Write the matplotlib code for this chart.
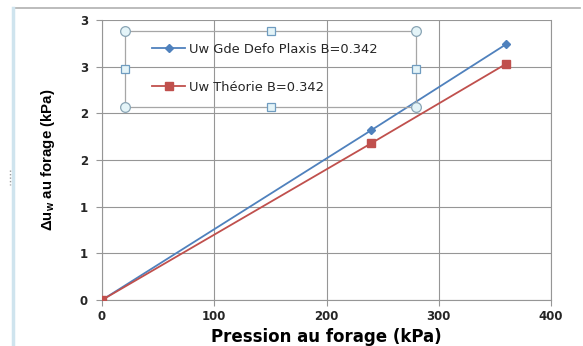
import matplotlib
matplotlib.use("Agg")
import matplotlib.pyplot as plt
from matplotlib.patches import Rectangle

# pression au forage (kPa) et surpression interstitielle (kPa)
pression = [0, 240, 360]
uw_plaxis = [0, 1.82, 2.74]
uw_theorie = [0, 1.68, 2.53]

x_ticks = [0, 100, 200, 300, 400]
y_ticks = [0, 0.5, 1.0, 1.5, 2.0, 2.5, 3.0]
y_tick_labels = ["0", "1", "1", "2", "2", "3", "3"]

label_plaxis = "Uw Gde Defo Plaxis B=0.342"
label_theorie = "Uw Théorie B=0.342"

BLUE = "#4f81bd"
RED = "#c0504d"
GRID = "#969696"
TXT = "#262626"

plt.rcParams["mathtext.fontset"] = "custom"
plt.rcParams["mathtext.bf"] = "Liberation Sans:bold"
plt.rcParams["mathtext.rm"] = "Liberation Sans"

W, H = 583, 346
fig = plt.figure(figsize=(W / 100, H / 100), dpi=100)
fig.patch.set_facecolor("white")

ax = fig.add_axes([102 / W, 1 - 300 / H, 449 / W, 280 / H])
ax.plot(pression, uw_plaxis, color=BLUE, lw=1.3, marker="D", ms=4.2,
        label=label_plaxis, zorder=3)
ax.plot(pression, uw_theorie, color=RED, lw=1.3, marker="s", ms=5.5,
        label=label_theorie, zorder=3)

ax.set_xlim(0, 400)
ax.set_ylim(0, 3)
ax.set_xticks(x_ticks)
ax.set_yticks(y_ticks)
ax.set_yticklabels(y_tick_labels)
ax.grid(True, color=GRID, lw=0.8)
ax.set_axisbelow(True)
for side in ["left", "bottom", "top", "right"]:
    ax.spines[side].set_color(GRID)
    ax.spines[side].set_linewidth(0.8)
ax.spines["top"].set_visible(False)
ax.tick_params(axis="both", colors=GRID, length=4, width=0.8, labelcolor=TXT,
               labelsize=8.5)
for lbl in ax.get_xticklabels() + ax.get_yticklabels():
    lbl.set_fontweight("bold")
ax.tick_params(axis="x", pad=3)
ax.tick_params(axis="y", pad=6)

ax.set_xlabel("Pression au forage (kPa)", fontsize=12, fontweight="bold",
              color="black")
ax.xaxis.set_label_coords(0.5, -0.1)
ax.set_ylabel("Δu$_\\mathbf{w}$ au forage (kPa)", fontsize=10.8,
              fontweight="bold", color="black", family="Liberation Sans")
ax.yaxis.set_label_coords(-0.1, 0.5)

leg = ax.legend(loc="upper left", frameon=False, fontsize=9.4,
                bbox_to_anchor=(145 / W, 1 - 36 / H),
                bbox_transform=fig.transFigure, borderpad=0,
                labelspacing=1.95, handlelength=2.6, handletextpad=0.25)
for t in leg.get_texts():
    t.set_color(TXT)

# calque en pixels pour le cadre du graphique et la sélection de la légende
ov = fig.add_axes([0, 0, 1, 1], zorder=5)
ov.set_xlim(0, W)
ov.set_ylim(H, 0)
ov.axis("off")
ov.patch.set_alpha(0)

ov.plot([15, 580], [8, 8], color="#b0b0b0", lw=1.2)
ov.plot([13, 13], [8, H], color="#cfe4ee", lw=2.5)
ov.plot([10, 10], [170, 185], color="#9a9a9a", lw=1.0, ls=(0, (1, 1.5)))

x0, x1, y0, y1 = 125, 416, 31, 107
ov.add_patch(Rectangle((x0, y0), x1 - x0, y1 - y0, fill=False,
                       edgecolor="#a6a6a6", lw=0.9))
xm, ym = (x0 + x1) / 2, (y0 + y1) / 2
ov.plot([x0, x1, x0, x1], [y0, y0, y1, y1], ls="none", marker="o", ms=7,
        mfc="#e4f4f8", mec="#8aa5b5", mew=0.9)
ov.plot([xm, xm, x0, x1], [y0, y1, ym, ym], ls="none", marker="s", ms=5.5,
        mfc="#e4f4f8", mec="#6f9cc0", mew=0.9)

fig.savefig("out.png", dpi=100)
